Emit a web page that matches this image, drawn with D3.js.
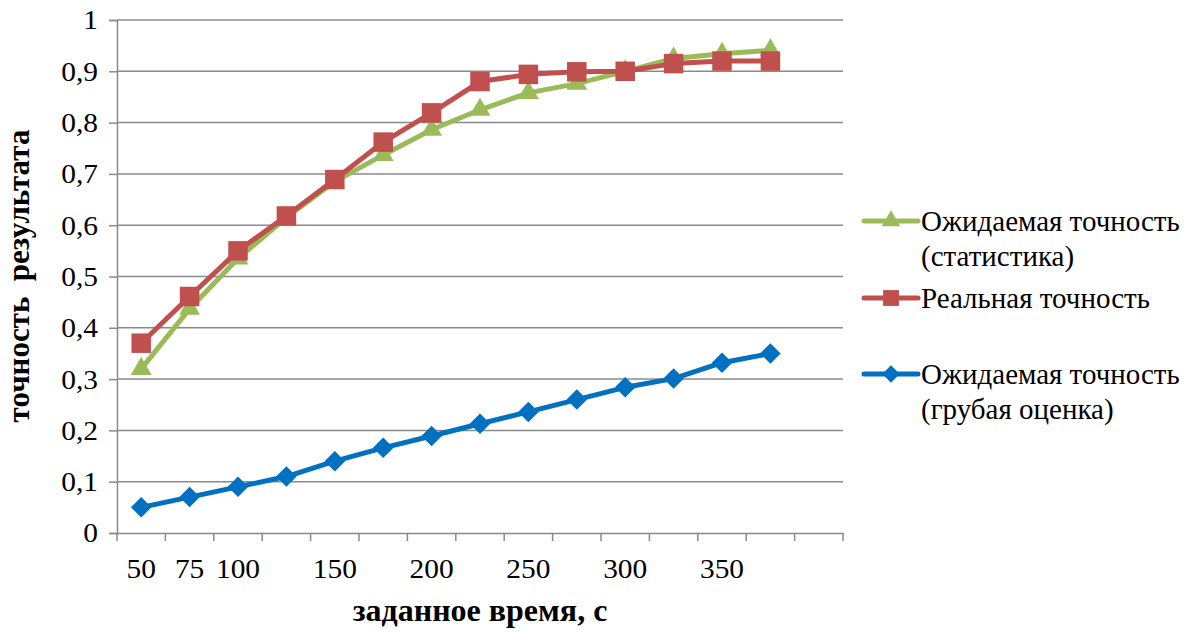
<!DOCTYPE html>
<html><head><meta charset="utf-8">
<script src="https://cdn.jsdelivr.net/npm/d3@7"></script>
<style>body{margin:0;background:#fff}svg{display:block}</style>
</head><body><svg id="c" width="1195" height="632"></svg>
<script>
const categories = ["50","75","100","","150","","200","","250","","300","","350","",""];
const seriesStat = [0.32,0.437,0.535,0.615,0.685,0.737,0.786,0.825,0.858,0.876,0.9,0.925,0.934,0.941];
const seriesReal = [0.37,0.461,0.55,0.618,0.689,0.762,0.819,0.88,0.894,0.899,0.9,0.915,0.92,0.92];
const seriesRough = [0.05,0.07,0.09,0.11,0.14,0.166,0.189,0.213,0.236,0.26,0.284,0.301,0.332,0.35];
const yTicks = [0,0.1,0.2,0.3,0.4,0.5,0.6,0.7,0.8,0.9,1];
const seriesNames = [["Ожидаемая точность","(статистика)"],["Реальная точность"],["Ожидаемая точность","(грубая оценка)"]];
const colors = ["#9BBB59","#C0504D","#0070C0"];
const FONT = "'Liberation Serif', 'Times New Roman', serif";

const svg = d3.select("#c");
const m = {l:117, r:843, t:20, b:533};
const x = d3.scaleBand().domain(d3.range(categories.length)).range([m.l, m.r]);
const y = d3.scaleLinear().domain([0,1]).range([m.b, m.t]);

function stretch(sel, sx){
  sel.each(function(){
    const w = this.getComputedTextLength();
    if (w > 0) d3.select(this).attr("textLength", w*sx).attr("lengthAdjust","spacingAndGlyphs");
  });
}

// gridlines
svg.append("g").selectAll("line").data(yTicks.slice(1)).join("line")
  .attr("x1", m.l).attr("x2", m.r).attr("y1", d=>y(d)).attr("y2", d=>y(d))
  .attr("stroke","#8a8a8a").attr("stroke-width",1.5);

// y axis
const fmt = d => d3.format(".1~f")(d).replace(".", ",");
const ya = svg.append("g").attr("transform",`translate(${m.l},0)`)
  .call(d3.axisLeft(y).tickValues(yTicks).tickFormat(fmt).tickSize(8).tickPadding(11));
ya.select(".domain").attr("stroke","#8a8a8a").attr("stroke-width",1.5);
ya.selectAll(".tick line").attr("stroke","#8a8a8a").attr("stroke-width",1.5);
ya.selectAll("text").attr("font-size",28).attr("fill","#000").style("font-family",FONT).call(stretch,1.05);

// x axis
const bw = x.bandwidth();
const xa = svg.append("g").attr("transform",`translate(0,${m.b})`)
  .call(d3.axisBottom(x).tickFormat(i=>categories[i]).tickSize(0));
xa.select(".domain").attr("stroke","#8a8a8a").attr("stroke-width",1.5);
xa.selectAll("text").attr("y",45).attr("dy",0).attr("font-size",28).attr("fill","#000")
  .style("font-family",FONT).call(stretch,1.05);
svg.append("g").selectAll("line").data(d3.range(categories.length+1)).join("line")
  .attr("x1", i => m.l + i*bw).attr("x2", i => m.l + i*bw)
  .attr("y1", m.b).attr("y2", m.b+8).attr("stroke","#8a8a8a").attr("stroke-width",1.5);

// axis titles
svg.append("text").attr("x",480).attr("y",621).attr("text-anchor","middle").style("font-family",FONT)
  .attr("font-size",32).attr("font-weight","bold").text("заданное время, с");
svg.append("text").attr("transform","translate(29,276) rotate(-90)").attr("text-anchor","middle")
  .style("font-family",FONT).attr("font-size",31).attr("font-weight","bold")
  .style("white-space","pre").text("точность  результата");

const cx = i => x(i) + bw/2;
const line = d3.line().x((d,i)=>cx(i)).y(d=>y(d));
const allSeries = [seriesStat, seriesReal, seriesRough];
const markerPath = [
  d3.symbol().type(d3.symbolTriangle).size(190)(),
  d3.symbol().type(d3.symbolSquare).size(380)(),
  d3.symbol().type(d3.symbolSquare).size(210)()
];
const markerRot = [0, 0, 45];
[2,0,1].forEach(k => {
  const vals = allSeries[k];
  svg.append("path").datum(vals).attr("d", line).attr("fill","none")
    .attr("stroke", colors[k]).attr("stroke-width",5).attr("stroke-linejoin","round");
  svg.append("g").selectAll("path").data(vals).join("path")
    .attr("transform",(d,i)=>`translate(${cx(i)},${y(d)}) rotate(${markerRot[k]})`)
    .attr("d", markerPath[k]).attr("fill", colors[k]);
});

// legend
const legY = [221, 298, 374];
const legMarker = [
  d3.symbol().type(d3.symbolTriangle).size(150)(),
  d3.symbol().type(d3.symbolSquare).size(250)(),
  d3.symbol().type(d3.symbolSquare).size(150)()
];
seriesNames.forEach((nm,k) => {
  const g = svg.append("g").attr("transform",`translate(0,${legY[k]})`);
  g.append("line").attr("x1",864).attr("x2",918).attr("y1",0).attr("y2",0)
    .attr("stroke",colors[k]).attr("stroke-width",5).attr("stroke-linecap","round");
  g.append("path").attr("transform",`translate(891,0) rotate(${markerRot[k]})`)
    .attr("d", legMarker[k]).attr("fill",colors[k]);
  nm.forEach((t,j)=> g.append("text").attr("x",921).attr("y",10 + j*35)
    .style("font-family",FONT).attr("font-size",29).text(t));
});
</script></body></html>
